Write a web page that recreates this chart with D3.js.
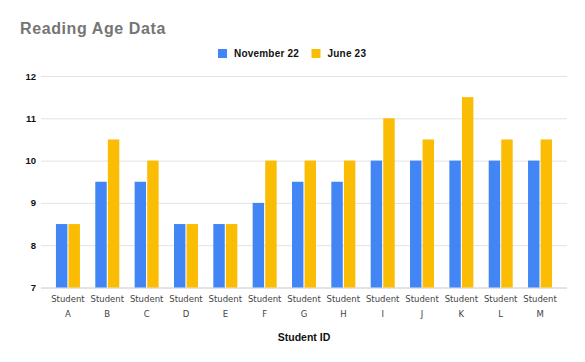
<!DOCTYPE html>
<html>
<head>
<meta charset="utf-8">
<script src="https://cdn.jsdelivr.net/npm/d3@7"></script>
<style>
  html, body { margin: 0; padding: 0; background: #fff; }
  svg { display: block; }
</style>
</head>
<body>
<div id="chart"></div>
<script>
const categories = ["A","B","C","D","E","F","G","H","I","J","K","L","M"];
const seriesNames = ["November 22", "June 23"];
const november22 = [8.5, 9.5, 9.5, 8.5, 8.5, 9, 9.5, 9.5, 10, 10, 10, 10, 10];
const june23 = [8.5, 10.5, 10, 8.5, 8.5, 10, 10, 10, 11, 10.5, 11.5, 10.5, 10.5];
const yTicks = [7, 8, 9, 10, 11, 12];
const colors = ["#4285F4", "#FBBC04"];

const W = 585, H = 362;
const svg = d3.select("#chart").append("svg").attr("width", W).attr("height", H);

const x0 = d3.scaleBand().domain(categories).range([41, 567]).paddingInner(0.39).paddingOuter(0.38);
const x1 = d3.scaleBand().domain(seriesNames).range([0, x0.bandwidth()]).paddingInner(0.09);
const y = d3.scaleLinear().domain([7, 12]).range([287.5, 76]);

// gridlines
svg.append("g").selectAll("line").data(yTicks).join("line")
  .attr("x1", 41).attr("x2", 567)
  .attr("y1", d => y(d) + 0.5).attr("y2", d => y(d) + 0.5)
  .attr("stroke", d => d === 7 ? "#c8c8c8" : "#e3e3e3").attr("stroke-width", 1);

// y axis labels
const yAxis = d3.axisLeft(y).tickValues(yTicks).tickSize(0).tickPadding(0).tickFormat(d3.format("d"));
const gy = svg.append("g").attr("transform", "translate(36,0)").call(yAxis);
gy.select(".domain").remove();
gy.selectAll("text").attr("font-family", "Liberation Sans, Arial, sans-serif")
  .attr("font-weight", "bold").attr("font-size", "9.5px").attr("fill", "#111");

// bars
const rows = categories.map((c, i) => ({ cat: c, vals: [november22[i], june23[i]] }));
const groups = svg.append("g").selectAll("g").data(rows).join("g")
  .attr("transform", d => `translate(${x0(d.cat)},0)`);
groups.selectAll("rect").data(d => d.vals.map((v, j) => ({ s: seriesNames[j], v, j })))
  .join("rect")
  .attr("x", d => x1(d.s))
  .attr("width", x1.bandwidth())
  .attr("y", d => y(d.v))
  .attr("height", d => y(7) - y(d.v))
  .attr("fill", d => colors[d.j]);

// x labels
const xl = svg.append("g").selectAll("text").data(categories).join("text")
  .attr("x", d => x0(d) + x0.bandwidth() / 2)
  .attr("text-anchor", "middle")
  .attr("font-family", "DejaVu Sans, sans-serif")
  .attr("font-size", "8.5px").attr("fill", "#444");
xl.append("tspan").attr("x", d => x0(d) + x0.bandwidth() / 2).attr("y", 302).text("Student");
xl.append("tspan").attr("x", d => x0(d) + x0.bandwidth() / 2).attr("y", 317).text(d => d);

// axis title
svg.append("text").attr("x", 304).attr("y", 341).attr("text-anchor", "middle")
  .attr("font-family", "Liberation Sans, Arial, sans-serif").attr("font-weight", "bold")
  .attr("font-size", "10.5px").attr("fill", "#111").text("Student ID");

// title
svg.append("text").attr("x", 20).attr("y", 33.5)
  .attr("font-family", "Liberation Sans, Arial, sans-serif").attr("font-weight", "bold")
  .attr("font-size", "16px").attr("letter-spacing", "0.6px").attr("fill", "#757575").text("Reading Age Data");

// legend
const legendItems = [{ name: seriesNames[0], x: 218 }, { name: seriesNames[1], x: 311.5 }];
const lg = svg.append("g").selectAll("g").data(legendItems).join("g")
  .attr("transform", d => `translate(${d.x},49)`);
lg.append("rect").attr("width", 9).attr("height", 9).attr("fill", (d, i) => colors[i]);
lg.append("text").attr("x", 16).attr("y", 8.3)
  .attr("font-family", "Liberation Sans, Arial, sans-serif").attr("font-weight", "bold")
  .attr("font-size", "10px").attr("letter-spacing", "0.2px").attr("fill", "#111").text(d => d.name);
</script>
</body>
</html>
